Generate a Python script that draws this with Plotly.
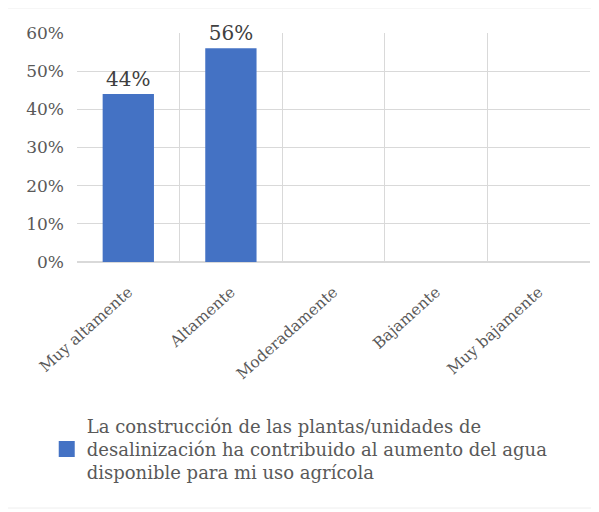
import plotly.graph_objects as go

categories = ["Muy altamente", "Altamente", "Moderadamente", "Bajamente", "Muy bajamente"]
values = [0.44, 0.56, None, None, None]
series_name = ("La construcción de las plantas/unidades de<br>"
               "desalinización ha contribuido al aumento del agua<br>"
               "disponible para mi uso agrícola")

SERIF = "DejaVu Serif, Liberation Serif, serif"
BAR_COLOR = "#4472C4"

fig = go.Figure()
fig.add_trace(go.Bar(
    x=categories, y=values, name=series_name,
    marker=dict(color=BAR_COLOR, line=dict(width=0)),
    width=0.5,
    texttemplate="%{y:.0%}", textposition="outside",
    textfont=dict(family=SERIF, size=20, color="#404040"),
    cliponaxis=False, showlegend=False,
))
# legend entry (square key)
fig.add_trace(go.Scatter(
    x=[None], y=[None], mode="markers", name=series_name,
    marker=dict(symbol="square", size=17, color=BAR_COLOR),
    showlegend=True,
))

fig.update_layout(
    width=591, height=504,
    margin=dict(l=69, r=9, t=25, b=250, autoexpand=False),
    paper_bgcolor="white", plot_bgcolor="white",
    font=dict(family=SERIF, color="#595959"),
    bargap=0.5,
    xaxis=dict(
        type="category", categoryorder="array", categoryarray=categories,
        tickson="boundaries", showgrid=True,
        gridcolor="#D9D9D9", gridwidth=1, tickangle=-42,
        tickfont=dict(family=SERIF, size=15.5, color="#595959"),
        showline=False, zeroline=False, ticks="", automargin=False,
        ticklabelstandoff=17,
    ),
    yaxis=dict(
        range=[0, 0.6], dtick=0.1, tickformat=".0%",
        gridcolor="#D9D9D9", gridwidth=1, showline=False,
        zeroline=True, zerolinecolor="#D9D9D9",
        tickfont=dict(family=SERIF, size=17, color="#595959"),
        ticks="", ticklabelstandoff=12, automargin=False,
    ),
    legend=dict(
        orientation="v", x=-0.059, xanchor="left", y=-0.635, yanchor="top",
        font=dict(family=SERIF, size=18, color="#595959"),
        itemsizing="trace", bgcolor="rgba(0,0,0,0)",
    ),
    shapes=[dict(type="rect", xref="paper", yref="paper",
                 x0=-72/505, x1=1 + 12/505, y0=-246/229, y1=1 + 25/229,
                 line=dict(color="#EEEEEE", width=1), fillcolor="rgba(0,0,0,0)",
                 layer="below")],
)

fig.write_html("out.html")
